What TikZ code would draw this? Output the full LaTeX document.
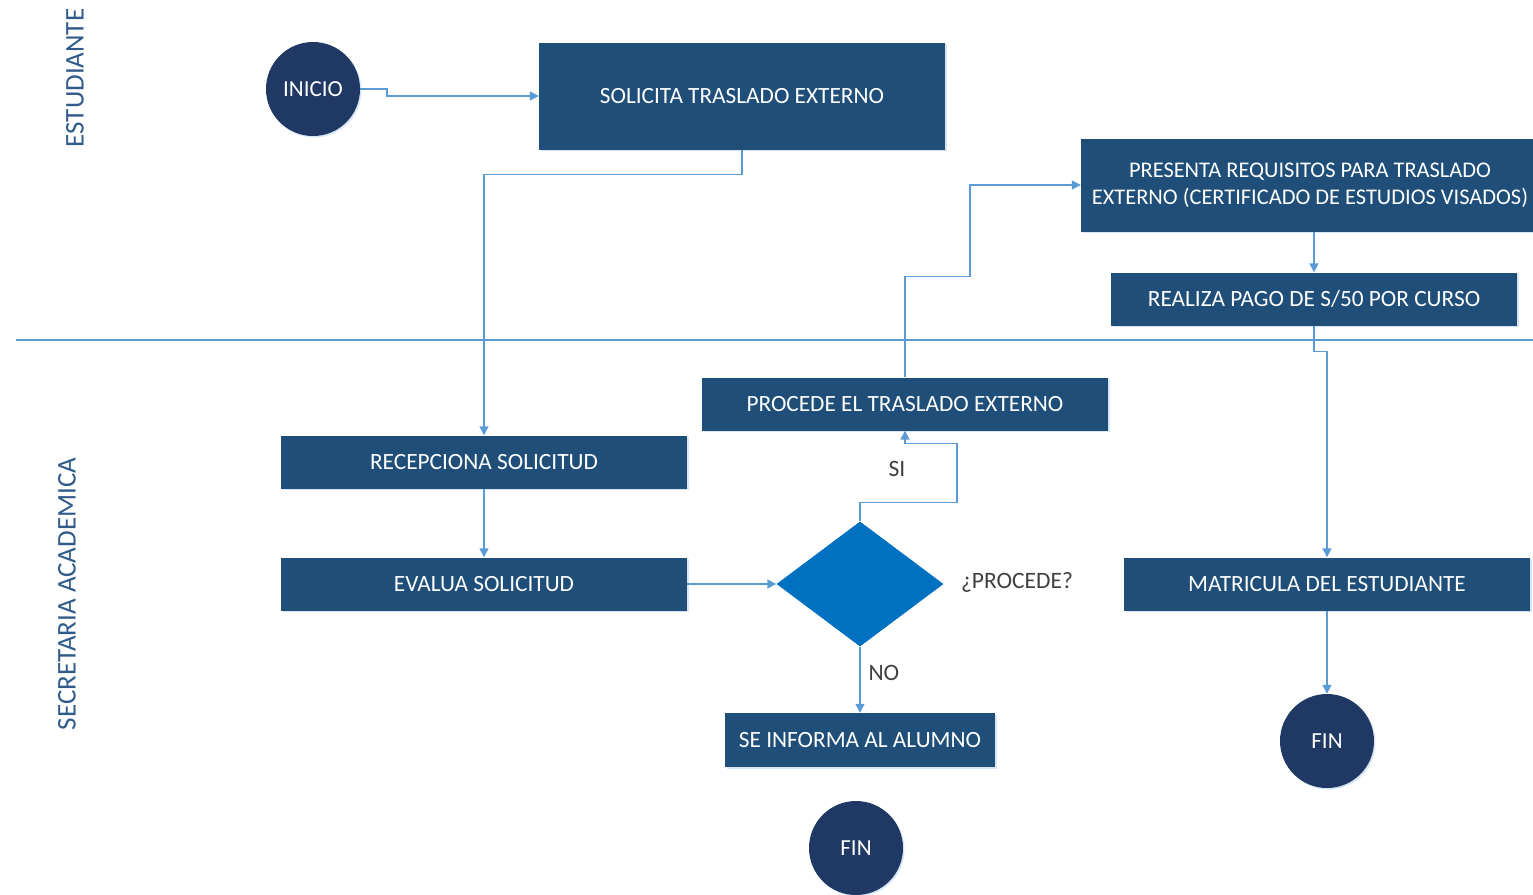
\documentclass[tikz,border=0pt]{standalone}
\usepackage{fontspec}
\setmainfont{Carlito}
\usetikzlibrary{arrows.meta,shapes.geometric,shadows}
\definecolor{boxblue}{HTML}{1F4E79}
\definecolor{navy}{HTML}{203864}
\definecolor{decblue}{HTML}{0070C0}
\definecolor{linkblue}{HTML}{5B9BD5}
\definecolor{lanetext}{HTML}{2F5A8A}
\definecolor{labelgray}{HTML}{404040}
\tikzset{
  procbox/.style={rectangle, fill=boxblue, text=white, inner sep=0pt,
    font=\fontsize{23.3}{27}\selectfont, align=center,
    drop shadow={shadow xshift=1.5pt, shadow yshift=-1.5pt, opacity=.25, fill=linkblue}},
  terminal/.style={circle, fill=navy, text=white, inner sep=0pt,
    minimum size=94pt, font=\fontsize{23}{27}\selectfont,
    drop shadow={shadow xshift=1.5pt, shadow yshift=-1.5pt, opacity=.25, fill=linkblue}},
  decision/.style={diamond, fill=decblue, inner sep=0pt, aspect=1.34,
    minimum width=167pt, minimum height=125pt},
  flow/.style={draw=linkblue, line width=1.5pt, -{Triangle[length=9pt,width=9pt]}},
  lanelabel/.style={rotate=90, text=lanetext, font=\fontsize{27}{31}\selectfont},
  condlabel/.style={text=labelgray, font=\fontsize{23.5}{27}\selectfont}
}
\begin{document}
\begin{tikzpicture}[x=1pt,y=-1pt]
\useasboundingbox (0,0) rectangle (1533,894);
\clip (0,0) rectangle (1533,894);

% swimlane separator and lane titles
\draw[linkblue, line width=1.5pt] (16,340) -- (1533,340);
\node[lanelabel] (laneEst) at (75,78) {ESTUDIANTE};
\node[lanelabel] (laneSec) at (67,594) {SECRETARIA ACADEMICA};

% student lane
\node[terminal] (inicio) at (313,89) {INICIO};
\node[procbox, minimum width=406pt, minimum height=107pt] (solicita) at (742,96) {SOLICITA TRASLADO EXTERNO};
\node[procbox, minimum width=462pt, minimum height=93pt] (presenta) at (1312,185) {};
\node[text=white, align=center, font=\fontsize{22.4}{27}\selectfont] (presentatext) at (1310,185)
  {PRESENTA REQUISITOS PARA TRASLADO\\EXTERNO (CERTIFICADO DE ESTUDIOS VISADOS)};
\node[procbox, minimum width=406pt, minimum height=53pt] (pago) at (1314,299) {REALIZA PAGO DE S/50 POR CURSO};

% academic secretary lane
\node[procbox, minimum width=406pt, minimum height=53pt] (recep) at (484,462) {RECEPCIONA SOLICITUD};
\node[procbox, minimum width=406pt, minimum height=53pt] (evalua) at (484,584) {EVALUA SOLICITUD};
\node[decision] (dec) at (860,584) {};
\node[condlabel] (declabel) at (1017,582) {¿PROCEDE?};
\node[procbox, minimum width=406pt, minimum height=53pt] (procede) at (905,404) {PROCEDE EL TRASLADO EXTERNO};
\node[procbox, minimum width=270pt, minimum height=54pt] (informa) at (860,740) {SE INFORMA AL ALUMNO};
\node[terminal] (fin1) at (856,848) {FIN};
\node[procbox, minimum width=406pt, minimum height=53pt] (matricula) at (1327,584) {MATRICULA DEL ESTUDIANTE};
\node[terminal] (fin2) at (1327,741) {FIN};

% connectors
\draw[flow] (inicio.east) -- ++(27,0) |- (solicita.west |- 0,96);
\draw[flow] (solicita.south) -- ++(0,25) -| (recep.north);
\draw[flow] (recep.south) -- (evalua.north);
\draw[flow] (evalua.east) -- (dec.west);
\draw[flow] (dec.south) -- (informa.north);
\node[condlabel, anchor=west] (nolabel) at (865,673) {NO};
\draw[flow] (dec.north) -- ++(0,-19) -- ++(97,0) -- ++(0,-59) -| (procede.south);
\node[condlabel] (silabel) at (897,469) {SI};
\draw[flow] (procede.north) -- ++(0,-101) -- ++(65,0) |- (presenta.west);
\draw[flow] (presenta.south -| pago.north) -- (pago.north);
\draw[flow] (pago.south) -- ++(0,26) -| (matricula.north);
\draw[flow] (matricula.south) -- (fin2.north);
\end{tikzpicture}
\end{document}
